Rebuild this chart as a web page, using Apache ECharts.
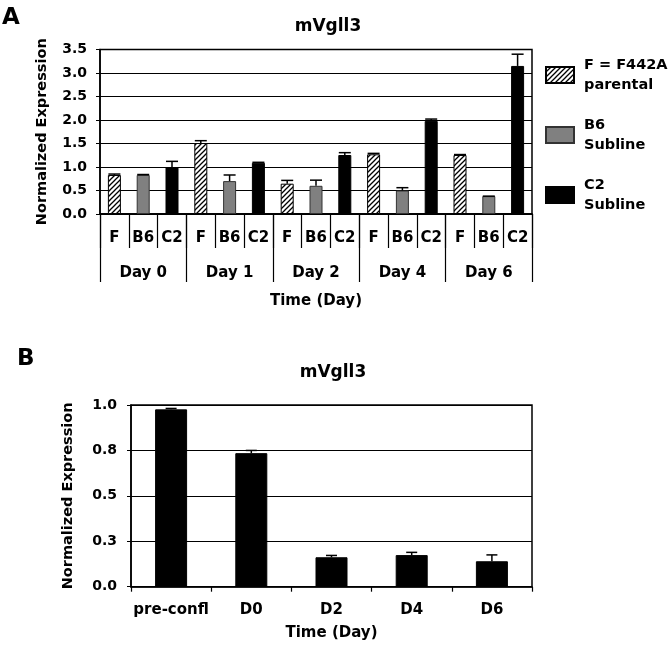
<!DOCTYPE html>
<html>
<head>
<meta charset="utf-8">
<script src="https://cdn.jsdelivr.net/npm/echarts@6/dist/echarts.min.js"></script>
<style>html,body{margin:0;padding:0;background:#fff;}#c{width:670px;height:649px;}</style>
</head>
<body>
<div id="c"></div>
<script>
// ---------- Panel A data ----------
const groupsA = ['F', 'B6', 'C2'];
const daysA = ['Day 0', 'Day 1', 'Day 2', 'Day 4', 'Day 6'];
const valuesF = [0.83, 1.51, 0.645, 1.27, 1.255];
const errF = [0.02, 0.05, 0.07, 0.02, 0.01];
const valuesB6 = [0.83, 0.70, 0.60, 0.50, 0.38];
const errB6 = [0.01, 0.13, 0.12, 0.06, 0.0];
const valuesC2 = [1.0, 1.09, 1.255, 1.98, 3.15];
const errC2 = [0.12, 0.01, 0.05, 0.04, 0.25];
const yTicksA = ['0.0', '0.5', '1.0', '1.5', '2.0', '2.5', '3.0', '3.5'];
const legendNamesA = ['F = F442A\nparental', 'B6\nSubline', 'C2\nSubline'];

// ---------- Panel B data ----------
const catsB = ['pre-confl', 'D0', 'D2', 'D4', 'D6'];
const valuesB = [0.976, 0.735, 0.162, 0.174, 0.14];
const errB = [0.005, 0.015, 0.01, 0.015, 0.035];
const yTicksB = ['0.0', '0.3', '0.5', '0.8', '1.0'];

const FONT = 'DejaVu Sans';

// hatch pattern
const pc = document.createElement('canvas');
pc.width = 5; pc.height = 5;
const pctx = pc.getContext('2d');
pctx.fillStyle = '#fff'; pctx.fillRect(0, 0, 5, 5);
pctx.strokeStyle = '#000'; pctx.lineWidth = 1.3;
pctx.beginPath();
pctx.moveTo(-1, 6); pctx.lineTo(6, -1);
pctx.moveTo(-1, 1); pctx.lineTo(1, -1);
pctx.moveTo(4, 6); pctx.lineTo(6, 4);
pctx.stroke();
const hatch = { image: pc, repeat: 'repeat' };

// build 15-slot arrays
const subCats = [];
daysA.forEach(() => groupsA.forEach(g => subCats.push(g)));
function slot(values, gi) {
  const out = new Array(15).fill('-');
  values.forEach((v, d) => { out[d * 3 + gi] = v; });
  return out;
}
function errData(values, errs, gi) {
  return values.map((v, d) => [d * 3 + gi, v, errs[d]]);
}
function makeErrRender(capW) {
  return function (params, api) {
    const x = api.value(0), v = api.value(1), e = api.value(2);
    const p0 = api.coord([x, v]);
    const p1 = api.coord([x, v + e]);
    const hw = capW / 2;
    return {
      type: 'group',
      children: [
        { type: 'line', shape: { x1: p0[0], y1: p0[1], x2: p1[0], y2: p1[1] }, style: { stroke: '#000', lineWidth: 1.5 } },
        { type: 'line', shape: { x1: p1[0] - hw, y1: p1[1], x2: p1[0] + hw, y2: p1[1] }, style: { stroke: '#000', lineWidth: 1.5 } }
      ]
    };
  };
}

const txt = { color: '#000', fontFamily: FONT, fontWeight: 'bold' };

const chart = echarts.init(document.getElementById('c'), null, { renderer: 'canvas' });
chart.setOption({
  animation: false,
  backgroundColor: '#fff',
  title: [
    { text: 'mVgll3', left: 323, top: 13, textAlign: 'center', textStyle: Object.assign({ fontSize: 17 }, txt) },
    { text: 'mVgll3', left: 328, top: 359, textAlign: 'center', textStyle: Object.assign({ fontSize: 17 }, txt) }
  ],
  graphic: [
    { type: 'text', left: 2, top: 7, style: { text: 'A', font: 'bold 23px "DejaVu Sans"', fill: '#000' } },
    { type: 'text', left: 17, top: 348, style: { text: 'B', font: 'bold 23px "DejaVu Sans"', fill: '#000' } }
  ],
  legend: {
    orient: 'vertical',
    left: 545, top: 55, padding: 0,
    itemWidth: 28, itemHeight: 16, itemGap: 20,
    data: legendNamesA,
    icon: 'rect',
    textStyle: Object.assign({ fontSize: 14.5, lineHeight: 20, padding: [0, 0, 0, 5] }, txt),
    selectedMode: false
  },
  grid: [
    { left: 100, top: 49.5, width: 432, height: 164.5, show: true, borderColor: '#000', borderWidth: 1.5, backgroundColor: 'transparent' },
    { left: 131, top: 405, width: 401, height: 181.7, show: true, borderColor: '#000', borderWidth: 1.5, backgroundColor: 'transparent' }
  ],
  xAxis: [
    {
      type: 'category', gridIndex: 0, data: subCats, position: 'bottom',
      axisLine: { show: true, lineStyle: { color: '#000', width: 1.5 } },
      axisTick: { show: true, interval: 0, length: 34, lineStyle: { color: '#000', width: 1.2 } },
      axisLabel: Object.assign({ interval: 0, fontSize: 15, margin: 17 }, txt)
    },
    {
      type: 'category', gridIndex: 0, data: daysA, position: 'bottom',
      axisLine: { show: true, lineStyle: { color: '#000', width: 1.5 } },
      axisTick: { show: true, interval: 0, length: 68, lineStyle: { color: '#000', width: 1.2 } },
      axisLabel: Object.assign({ interval: 0, fontSize: 15, margin: 52 }, txt),
      name: 'Time (Day)', nameLocation: 'middle', nameGap: 80,
      nameTextStyle: Object.assign({ fontSize: 15 }, txt)
    },
    {
      type: 'category', gridIndex: 1, data: catsB,
      axisLine: { show: true, lineStyle: { color: '#000', width: 1.5 } },
      axisTick: { show: true, interval: 0, length: 5, lineStyle: { color: '#000', width: 1.2 } },
      axisLabel: Object.assign({ interval: 0, fontSize: 15, margin: 16 }, txt),
      name: 'Time (Day)', nameLocation: 'middle', nameGap: 39,
      nameTextStyle: Object.assign({ fontSize: 15 }, txt)
    }
  ],
  yAxis: [
    {
      type: 'value', gridIndex: 0, min: 0, max: 3.5, interval: 0.5,
      axisLine: { show: true, lineStyle: { color: '#000', width: 1.5 } },
      axisTick: { show: true, length: 4, lineStyle: { color: '#000' } },
      splitLine: { show: true, lineStyle: { color: '#000', width: 1 } },
      axisLabel: Object.assign({ fontSize: 14, margin: 13, formatter: (v) => yTicksA[Math.round(v / 0.5)] }, txt),
      name: 'Normalized Expression', nameLocation: 'middle', nameGap: 50,
      nameTextStyle: Object.assign({ fontSize: 14.5 }, txt)
    },
    {
      type: 'value', gridIndex: 1, min: 0, max: 1, interval: 0.25,
      axisLine: { show: true, lineStyle: { color: '#000', width: 1.5 } },
      axisTick: { show: true, length: 4, lineStyle: { color: '#000' } },
      splitLine: { show: true, lineStyle: { color: '#000', width: 1 } },
      axisLabel: Object.assign({ fontSize: 14, margin: 14, formatter: (v) => yTicksB[Math.round(v / 0.25)] }, txt),
      name: 'Normalized Expression', nameLocation: 'middle', nameGap: 55,
      nameTextStyle: Object.assign({ fontSize: 14.5 }, txt)
    }
  ],
  series: [
    {
      name: legendNamesA[0], type: 'bar', xAxisIndex: 0, yAxisIndex: 0,
      data: slot(valuesF, 0), barWidth: 13, barGap: '-100%',
      itemStyle: { color: hatch, borderColor: '#000', borderWidth: 1 }
    },
    {
      name: legendNamesA[1], type: 'bar', xAxisIndex: 0, yAxisIndex: 0,
      data: slot(valuesB6, 1), barWidth: 13, barGap: '-100%',
      itemStyle: { color: '#808080', borderColor: '#333', borderWidth: 1 }
    },
    {
      name: legendNamesA[2], type: 'bar', xAxisIndex: 0, yAxisIndex: 0,
      data: slot(valuesC2, 2), barWidth: 13, barGap: '-100%',
      itemStyle: { color: '#000', borderColor: '#000', borderWidth: 1 }
    },
    {
      type: 'custom', xAxisIndex: 0, yAxisIndex: 0, renderItem: makeErrRender(12), z: 5,
      data: [].concat(errData(valuesF, errF, 0), errData(valuesB6, errB6, 1), errData(valuesC2, errC2, 2))
    },
    {
      name: 'B', type: 'bar', xAxisIndex: 2, yAxisIndex: 1,
      data: valuesB, barWidth: 32,
      itemStyle: { color: '#000', borderColor: '#000', borderWidth: 1 }
    },
    {
      type: 'custom', xAxisIndex: 2, yAxisIndex: 1, renderItem: makeErrRender(11), z: 5,
      data: valuesB.map((v, i) => [i, v, errB[i]])
    }
  ]
});
</script>
</body>
</html>
